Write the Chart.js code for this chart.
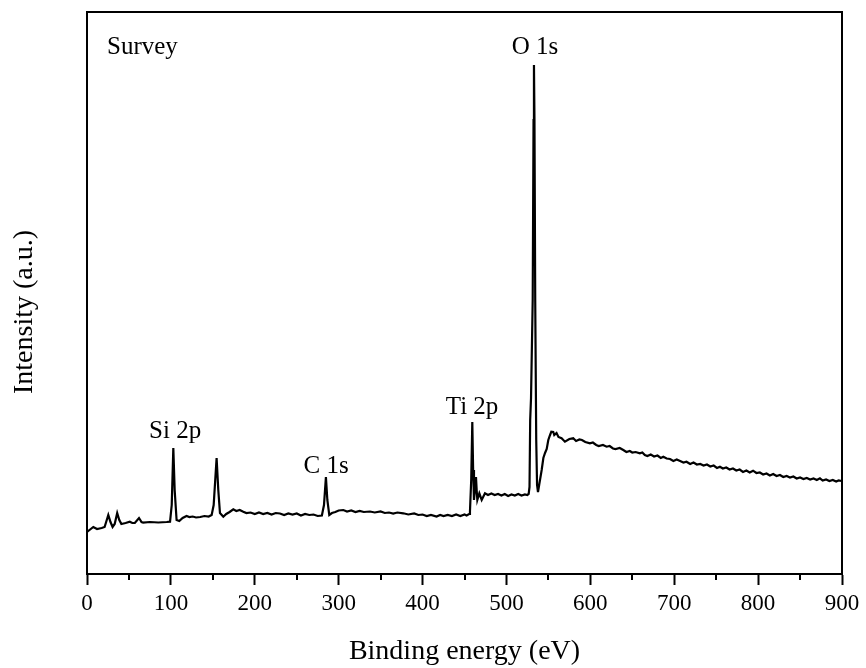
<!DOCTYPE html>
<html>
<head>
<meta charset="utf-8">
<script src="https://cdn.jsdelivr.net/npm/chart.js@4/dist/chart.umd.min.js"></script>
<style>
    body { margin: 0; background: #fff; }
    canvas { display: block; }
</style>
</head>
<body>
<canvas id="graficoXPS" width="866" height="668"></canvas>
<script>
// binding energy (eV) and intensity (a.u.)
const energia = [
    0, 3, 7.5, 12, 17.5, 21, 25.4, 28, 30.5, 33, 36, 38.5, 41, 46, 51, 54, 57, 62, 65, 67,
    75, 85, 95, 99, 101, 102.9, 104.5, 106.8, 110, 114, 118.7, 122, 126, 130, 135, 140, 145, 148.6,
    151, 154.5, 156.5, 158.5, 162.5, 166, 170, 174.4, 178, 182, 186.3, 190, 195, 200, 205, 210,
    215, 220, 225, 230, 235, 240, 245, 250, 255, 260, 265, 270, 275, 280,
    282.5, 284.8, 286.5, 288.8, 292, 296, 300, 305.5, 310, 315, 320, 325, 330, 337.3, 343, 350,
    355, 360, 365, 370, 377, 383, 390, 395, 400, 405, 410, 416.7, 421, 425, 430, 435, 440, 445,
    450, 452.5, 455.5, 456.5, 458, 459.3,
    460.3, 461.3, 462.5, 463.7, 464.5, 465.3, 467.7, 470.5, 474.4, 478, 482, 486, 490, 494, 498,
    502, 506, 510, 514, 518, 522, 524.9, 526.5, 527.5, 528.3, 529.3, 530.3, 531.3, 532.3, 532.8,
    533.4, 534.3, 535.5, 536.5, 537.6, 539, 542, 544, 546, 548, 549.9, 552, 553.5, 555.8, 557,
    559.7, 562, 565.7, 569.7, 575, 579.6, 583, 587, 590, 594, 599.5, 603, 607, 610, 615, 619.4,
    623, 627, 630, 635, 639.3, 643, 647, 650, 654, 659, 662, 665, 668, 672, 676, 680, 684, 687,
    691, 695, 699, 703, 707, 711, 714.6, 719, 723, 727, 731, 735, 739, 743, 747, 751, 754.5, 758,
    762, 766, 770, 774, 778, 782, 786, 790, 794, 798, 802, 806, 810, 814, 818, 822, 826, 830, 834,
    838, 842, 846, 850, 854, 858, 862, 866, 870, 873.7, 877, 881, 885, 889, 893, 896, 899.5
];
const intensidade = [
    42, 44, 47, 45, 46, 47, 59, 52, 47, 50, 61, 54, 50, 51, 52.3, 51, 51, 56, 52, 51.3,
    52, 51.5, 52, 52.3, 69, 126, 84, 54, 53, 56, 58, 57, 57.5, 56.5, 57, 58, 57.5, 59,
    69, 116, 84, 61, 57.3, 60, 62, 64.7, 63, 64, 62.3, 61, 61.5, 60, 61.5, 60,
    61, 59.5, 61, 60.5, 59, 60.5, 59.5, 60.5, 58.5, 60, 59, 59.5, 58, 58.5,
    69, 97, 74, 59, 61, 62, 63.5, 64, 62.5, 63.5, 62, 63, 62, 62.5, 61.5, 62.5,
    61, 61.5, 60.5, 61.5, 60.7, 59.5, 60.5, 59, 59.5, 58, 59, 57.5, 59, 58, 59, 58, 59.5, 58,
    59.5, 58.5, 60, 62.3, 94, 152,
    104, 74, 84, 97, 84, 74, 80.7, 74, 80.7, 79, 80.5, 79, 80, 78.5, 80,
    78, 79.5, 78.5, 80, 78.5, 79.5, 79, 80, 87, 154, 176, 176, 274, 454, 509,
    454, 274, 134, 89, 82, 89, 104, 116, 121, 125, 134, 139, 142.3, 142, 139,
    141, 137, 135.7, 132.3, 135, 135.7, 133, 134.5, 134, 132, 130.7, 131.5, 129, 128, 129, 127.3,
    128, 125.5, 125, 126, 124, 122, 123, 121.5, 122, 120.7, 121.5, 119, 118, 119.5, 117.5, 118.5, 116, 117.3,
    115.5, 115, 113, 114.5, 113, 111.5, 112.3, 110, 111.5, 109.5, 110, 108.5, 109.5, 107.5, 108.5, 106, 107.3, 105.5,
    106.5, 104.5, 105.5, 103.5, 104.5, 102, 103.5, 101.5, 103.3, 101, 101.5, 99.5, 100.5, 98.5, 100, 98, 99, 97, 98,
    96.5, 97.5, 95.5, 96.5, 95, 96, 94.5, 95.5, 94, 95.7, 93.5, 94.5, 93, 94, 92.5, 93.5, 93
];

// peak labels: text, energy (eV), intensity (a.u.)
const rotulos   = ["Si 2p", "C 1s", "Ti 2p", "O 1s"];
const rotulosX  = [105, 285, 459, 534];
const rotulosY  = [143, 108, 167, 527];

const ticksMenores = [50, 150, 250, 350, 450, 550, 650, 750, 850];

const fonteSerif = "'Liberation Serif', 'Times New Roman', serif";

const pontos = energia.map((e, i) => ({ x: e, y: intensidade[i] }));

/* -------------------------------
   PLUGIN — moldura, ticks menores, textos
   ------------------------------- */
const extras = {
    id: "extras",
    afterDraw(chart) {
        const ctx = chart.ctx;
        const a = chart.chartArea;
        const sx = chart.scales.x;
        const sy = chart.scales.y;

        ctx.save();
        ctx.strokeStyle = "#000";
        ctx.lineWidth = 2;
        ctx.strokeRect(a.left, a.top, a.right - a.left, a.bottom - a.top);

        // minor ticks
        ctx.beginPath();
        ticksMenores.forEach(v => {
            const px = Math.round(sx.getPixelForValue(v));
            ctx.moveTo(px, a.bottom);
            ctx.lineTo(px, a.bottom + 6);
        });
        ctx.stroke();

        ctx.fillStyle = "#000";
        ctx.font = "25px " + fonteSerif;
        ctx.textBaseline = "middle";

        ctx.textAlign = "left";
        ctx.fillText("Survey", a.left + 20, a.top + 35);

        ctx.textAlign = "center";
        rotulos.forEach((t, i) => {
            ctx.fillText(t, sx.getPixelForValue(rotulosX[i]), sy.getPixelForValue(rotulosY[i]));
        });

        // y axis title
        ctx.font = "28px " + fonteSerif;
        ctx.translate(25, 312);
        ctx.rotate(-Math.PI / 2);
        ctx.fillText("Intensity (a.u.)", 0, 0);
        ctx.restore();
    }
};

new Chart(document.getElementById("graficoXPS"), {
    type: "line",
    data: {
        datasets: [{
            label: "Survey",
            data: pontos,
            borderColor: "#000",
            borderWidth: 2.2,
            pointRadius: 0,
            tension: 0,
            fill: false
        }]
    },
    options: {
        responsive: false,
        animation: false,
        devicePixelRatio: 1,
        layout: { padding: { top: 12, right: 24, left: 0, bottom: 0 } },
        plugins: {
            legend: { display: false },
            tooltip: { enabled: false }
        },
        scales: {
            x: {
                type: "linear",
                min: 0,
                max: 900,
                afterFit: s => { s.height = 94; },
                ticks: {
                    stepSize: 100,
                    color: "#000",
                    padding: 5,
                    maxRotation: 0,
                    font: { family: fonteSerif, size: 23 }
                },
                grid: {
                    drawOnChartArea: false,
                    tickLength: 11,
                    tickWidth: 2,
                    tickColor: "#000"
                },
                border: { color: "#000", width: 2 },
                title: {
                    display: true,
                    text: "Binding energy (eV)",
                    color: "#000",
                    padding: 0,
                    font: { family: fonteSerif, size: 28 }
                }
            },
            y: {
                min: 0,
                max: 562,
                afterFit: s => { s.width = 87; },
                ticks: { display: false },
                grid: { display: false },
                border: { color: "#000", width: 2 }
            }
        }
    },
    plugins: [extras]
});
</script>
</body>
</html>
